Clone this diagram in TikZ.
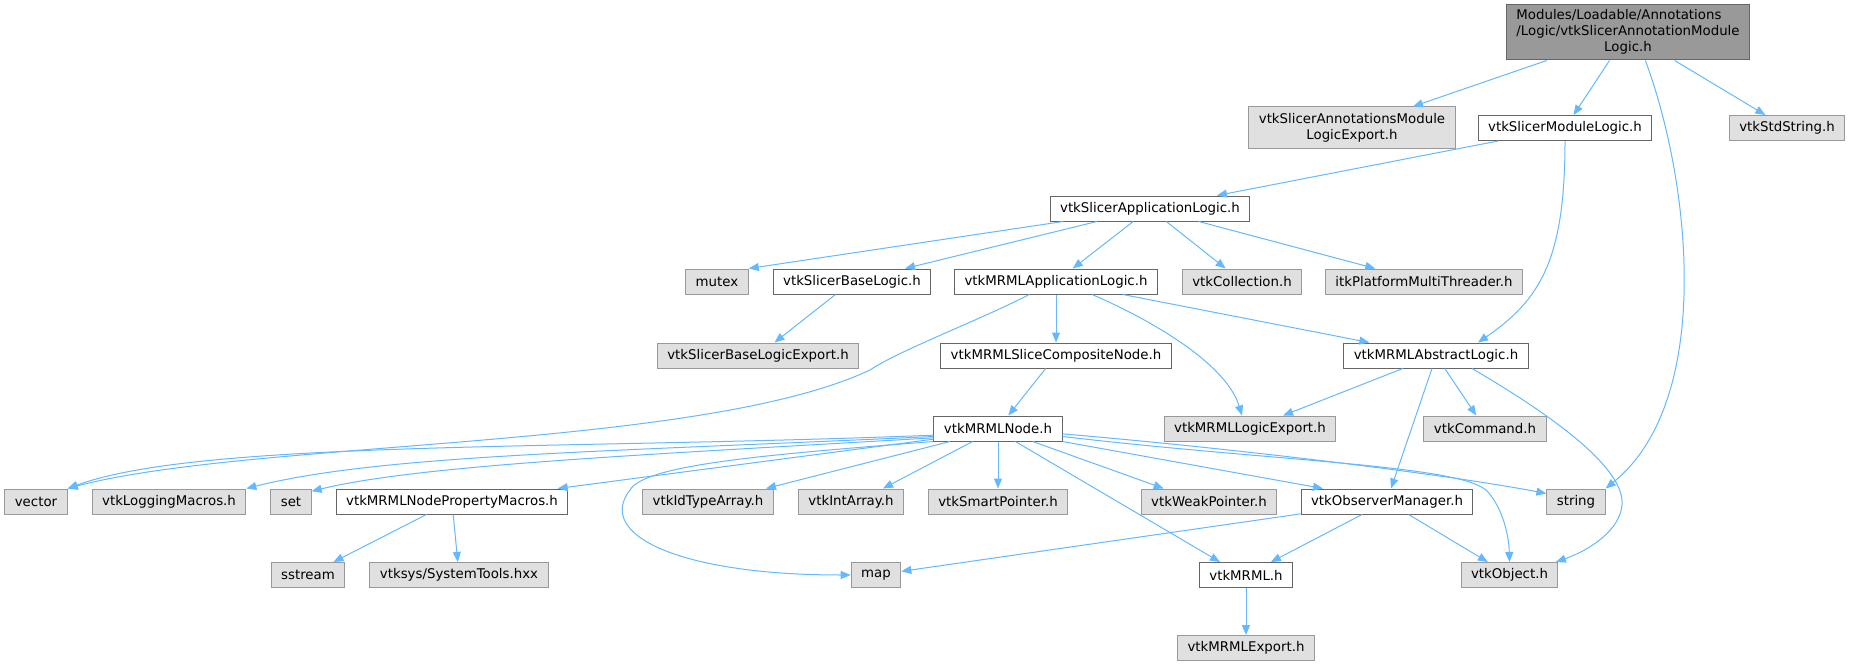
\documentclass[tikz,border=0pt]{standalone}
\usepackage{fontspec}
\setmainfont{DejaVu Sans}
\usetikzlibrary{arrows.meta}
\definecolor{linkblue}{HTML}{63B8FF}
\definecolor{extfill}{HTML}{E0E0E0}
\definecolor{extline}{HTML}{999999}
\definecolor{docline}{HTML}{666666}
\begin{document}
\begin{tikzpicture}[x=0.75pt,y=-0.75pt,
  box/.style={draw,line width=0.75pt,font=\fontsize{10}{12}\selectfont,inner xsep=7.5pt,inner ysep=0pt,minimum height=18.75pt},
  doc/.style={box,fill=white,draw=docline},
  ext/.style={box,fill=extfill,draw=extline},
  inc/.style={draw=linkblue,line width=0.75pt,-{Triangle[length=7.5pt,width=6pt]}}]
  \useasboundingbox (0,0) rectangle (1850,667);
  \node[box,fill=extline,draw=docline,minimum height=41.25pt] (root) at (1628,32.5)
    {\begin{tabular}{@{}l@{}}Modules/Loadable/Annotations\\/Logic/vtkSlicerAnnotationModule\\\multicolumn{1}{@{}c@{}}{Logic.h}\end{tabular}};
  \node[ext,align=center,minimum height=30.75pt] (annexp) at (1352,127.5) {vtkSlicerAnnotationsModule\\LogicExport.h};
  \node[doc] (modlogic) at (1565,128) {vtkSlicerModuleLogic.h};
  \node[ext] (stdstr) at (1787,128) {vtkStdString.h};
  \node[doc] (applogic) at (1150,208.5) {vtkSlicerApplicationLogic.h};
  \node[ext] (mutex) at (717,281.5) {mutex};
  \node[doc] (baselogic) at (852,281.5) {vtkSlicerBaseLogic.h};
  \node[doc] (mrmlapp) at (1056,281.5) {vtkMRMLApplicationLogic.h};
  \node[ext] (coll) at (1242,281.5) {vtkCollection.h};
  \node[ext] (itkmt) at (1424,281.5) {itkPlatformMultiThreader.h};
  \node[ext] (baseexp) at (758,355.5) {vtkSlicerBaseLogicExport.h};
  \node[doc] (slicecomp) at (1056,355.5) {vtkMRMLSliceCompositeNode.h};
  \node[doc] (abslogic) at (1436,355.5) {vtkMRMLAbstractLogic.h};
  \node[doc] (mrmlnode) at (998,428.5) {vtkMRMLNode.h};
  \node[ext] (logicexp) at (1250,428.5) {vtkMRMLLogicExport.h};
  \node[ext] (command) at (1485,428.5) {vtkCommand.h};
  \foreach \n/\x/\t in {vector/36/vector, logmac/169/vtkLoggingMacros.h, set/291/set,
      idtype/708/vtkIdTypeArray.h, intarr/851/vtkIntArray.h, smartptr/998/vtkSmartPointer.h,
      weakptr/1209/vtkWeakPointer.h, string/1576/string}
    \node[ext] (\n) at (\x,501.5) {\t};
  \node[doc] (propmac) at (452,501.5) {vtkMRMLNodePropertyMacros.h};
  \node[doc] (obsmgr) at (1387,501.5) {vtkObserverManager.h};
  \foreach \n/\x/\t in {sstream/308/sstream, systools/459/{vtksys/SystemTools.hxx}, map/876/map, object/1509.5/vtkObject.h}
    \node[ext] (\n) at (\x,575) {\t};
  \node[doc] (mrml) at (1246,575) {vtkMRML.h};
  \node[ext] (mrmlexp) at (1246,648) {vtkMRMLExport.h};

  \foreach \a/\b in {root/annexp, root/modlogic, root/stdstr, modlogic/applogic,
      applogic/baselogic, applogic/mrmlapp, applogic/coll, applogic/itkmt,
      baselogic/baseexp, mrmlapp/slicecomp, mrmlapp/abslogic, slicecomp/mrmlnode,
      abslogic/logicexp, abslogic/command, mrmlnode/smartptr,
      obsmgr/map, obsmgr/mrml, obsmgr/object, propmac/sstream, propmac/systools, mrml/mrmlexp}
    \draw[inc] (\a) -- (\b);
  \draw[inc] (applogic) -- (mutex.north east);
  \draw[inc] ([xshift=13pt]root.south) .. controls (1690,180) and (1715,400) .. (string.north east);
  \draw[inc] (modlogic.south) .. controls (1565,260) and (1540,300) .. ([xshift=31.5pt]abslogic.north);
  \draw[inc] ([xshift=-20pt]mrmlapp.south) .. controls (980,320) and (900,350) .. (870,370)
    .. controls (700,450) and (250,440) .. (vector.north east);
  \draw[inc] ([xshift=27pt]mrmlapp.south) .. controls (1140,315) and (1225,360) .. ([xshift=-6pt]logicexp.north);
  \draw[inc] ([xshift=-3pt]abslogic.south) -- ([xshift=3pt]obsmgr.north);
  \draw[inc] ([xshift=27pt]abslogic.south) .. controls (1560,420) and (1625,470) .. (1622,505)
    .. controls (1620,530) and (1590,550) .. ([xshift=-2pt]object.north east);
  \draw[inc] ([yshift=-5pt]mrmlnode.west) .. controls (560,450) and (200,440) .. (vector.north east);
  \draw[inc] ([yshift=-6pt]mrmlnode.west) .. controls (600,452) and (380,455) .. (logmac.north east);
  \draw[inc] ([yshift=-7pt]mrmlnode.west) .. controls (640,455) and (420,465) .. ([yshift=-2pt]set.north east);
  \draw[inc] ([yshift=-8pt]mrmlnode.west) -- ([xshift=-8pt]propmac.north east);
  \draw[inc] (mrmlnode.south west) .. controls (760,455) and (645,465) .. (630,490)
    .. controls (595,535) and (680,575) .. (map.west);
  \draw[inc] ([xshift=-36pt]mrmlnode.south) -- ([xshift=43.5pt]idtype.north);
  \draw[inc] ([xshift=-19pt]mrmlnode.south) -- ([xshift=24pt]intarr.north);
  \draw[inc] ([xshift=13pt]mrmlnode.south) -- ([xshift=-19.5pt]mrml.north);
  \draw[inc] ([xshift=26pt]mrmlnode.south) -- ([xshift=-34pt]weakptr.north);
  \draw[inc] (mrmlnode.south east) -- ([xshift=-48pt]obsmgr.north);
  \draw[inc] ([yshift=-4pt]mrmlnode.east) .. controls (1250,450) and (1450,475) .. ([yshift=6pt]string.west);
  \draw[inc] ([yshift=-6pt]mrmlnode.east) .. controls (1280,462) and (1465,465) .. (1488,492)
    .. controls (1505,512) and (1509,540) .. (object.north);
\end{tikzpicture}
\end{document}
